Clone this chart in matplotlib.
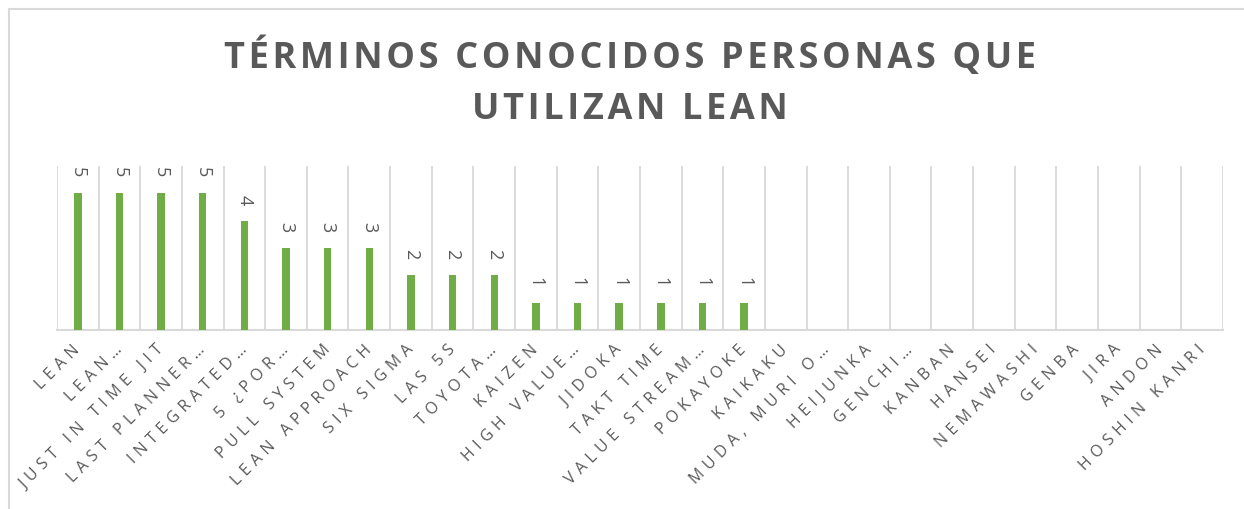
import numpy as np
import matplotlib.pyplot as plt
from matplotlib.lines import Line2D

# datos del grafico
terminos = ["LEAN", "LEAN…", "JUST IN TIME JIT", "LAST PLANNER…", "INTEGRATED…",
            "5 ¿POR…", "PULL SYSTEM", "LEAN APPROACH", "SIX SIGMA", "LAS 5S",
            "TOYOTA…", "KAIZEN", "HIGH VALUE…", "JIDOKA", "TAKT TIME",
            "VALUE STREAM…", "POKAYOKE", "KAIKAKU", "MUDA, MURI O…", "HEIJUNKA",
            "GENCHI…", "KANBAN", "HANSEI", "NEMAWASHI", "GENBA", "JIRA",
            "ANDON", "HOSHIN KANRI"]
personas = [5, 5, 5, 5, 4, 3, 3, 3, 2, 2, 2, 1, 1, 1, 1, 1, 1,
            0, 0, 0, 0, 0, 0, 0, 0, 0, 0, 0]
titulo = ["TÉRMINOS CONOCIDOS PERSONAS QUE", "UTILIZAN LEAN"]

gris = "#595959"
linea = "#d9d9d9"
verde = "#70ad47"

plt.rcParams['font.family'] = ['Open Sans', 'DejaVu Sans']


def espaciado(t, sep="\u2004"):
    # imita el espaciado entre letras de Excel
    return sep.join(t)


W, H = 1244, 510
fig = plt.figure(figsize=(W / 100, H / 100), dpi=100)

# borde del grafico (solo se ve arriba e izquierda)
fig.add_artist(Line2D([8.5 / W, 8.5 / W], [0, 1 - 10 / H], transform=fig.transFigure,
                      color=linea, lw=1.5))
fig.add_artist(Line2D([8.5 / W, 1], [1 - 10 / H, 1 - 10 / H], transform=fig.transFigure,
                      color=linea, lw=1.5))

left, right, top, bottom = 57, 1223, 167, 331
ax = fig.add_axes([left / W, 1 - bottom / H, (right - left) / W, (bottom - top) / H])

x = np.arange(len(terminos))
ax.bar(x, personas, width=0.18, color=verde, zorder=3)

ax.set_xlim(-0.5, len(terminos) - 0.5)
ax.set_ylim(0, 6)

# lineas verticales entre categorias
for b in np.arange(-0.5, len(terminos), 1.0):
    ax.axvline(b, color=linea, lw=1.3, zorder=1)

for s in ["top", "left", "right"]:
    ax.spines[s].set_visible(False)
ax.spines["bottom"].set_color(linea)
ax.spines["bottom"].set_linewidth(1.5)

ax.set_yticks([])
ax.set_xticks(x)
ax.set_xticklabels([espaciado(t) for t in terminos], rotation=45, ha="right", va="center",
                   rotation_mode="anchor", fontsize=11.5, color=gris)
ax.tick_params(axis="x", length=0, pad=12)

for xi, v in zip(x, personas):
    if v > 0:
        ax.annotate(str(v), (xi, v), xytext=(0, 12), textcoords="offset points",
                    rotation=-90, ha="center", va="bottom", fontsize=13, color=gris)

for t, yc in zip(titulo, [57, 110]):
    fig.text(630 / W, 1 - yc / H, espaciado(t, "\u200a"), ha="center", va="center",
             fontsize=26, fontweight="bold", color=gris)

fig.savefig("out.png", dpi=100, facecolor="white")
